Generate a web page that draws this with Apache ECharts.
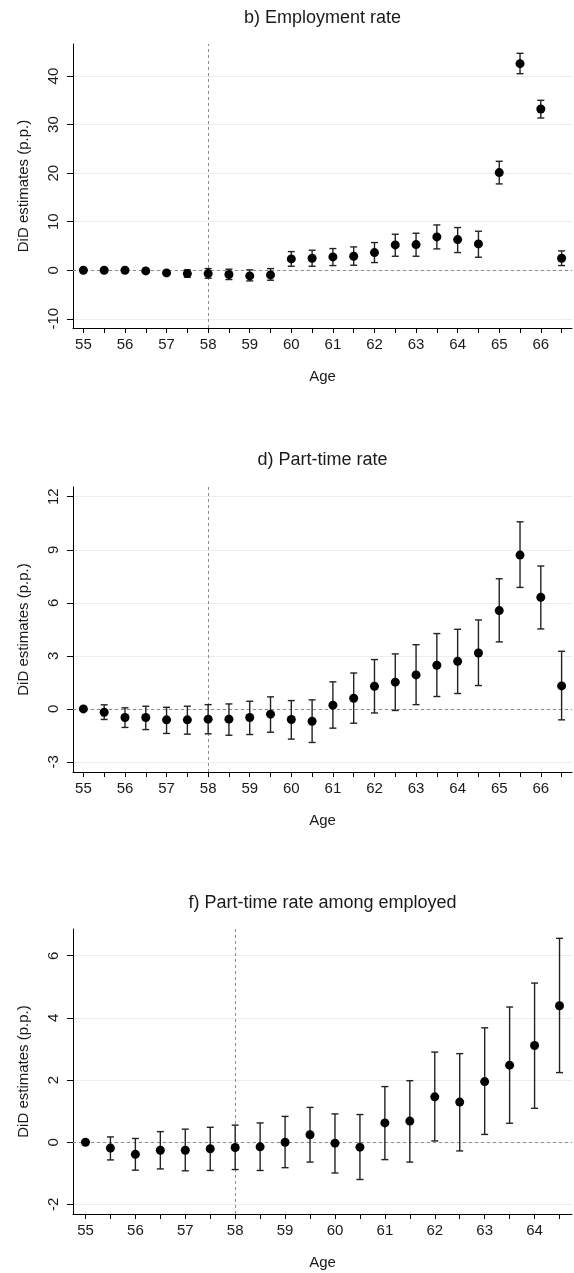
<!DOCTYPE html>
<html><head><meta charset="utf-8">
<script src="https://cdn.jsdelivr.net/npm/echarts@6/dist/echarts.min.js"></script>
<style>html,body{margin:0;padding:0;background:#fff}#c{width:574px;height:1273px}</style>
</head><body><div id="c"></div>
<script>
// ---- data ----
const agesLong = ['55','55.5','56','56.5','57','57.5','58','58.5','59','59.5','60','60.5','61','61.5','62','62.5','63','63.5','64','64.5','65','65.5','66','66.5'];
const agesShort = ['55','55.5','56','56.5','57','57.5','58','58.5','59','59.5','60','60.5','61','61.5','62','62.5','63','63.5','64','64.5'];

const titles = ['b) Employment rate', 'd) Part-time rate', 'f) Part-time rate among employed'];
const yAxisName = 'DiD estimates (p.p.)';
const xAxisName = 'Age';
const cutoffAge = '58';

// b) Employment rate
const empEst  = [0, 0, 0, -0.14, -0.55, -0.69, -0.69, -0.89, -1.17, -0.96, 2.33, 2.47, 2.75, 2.88, 3.64, 5.22, 5.28, 6.86, 6.31, 5.42, 20.11, 42.55, 33.22, 2.47];
const empLow  = [null, -0.2, -0.2, -0.4, -0.9, -1.44, -1.65, -1.92, -2.2, -2.06, 0.82, 0.82, 0.96, 1.03, 1.58, 2.88, 2.88, 4.39, 3.64, 2.68, 17.78, 40.49, 31.36, 0.96];
const empHigh = [null, 0.2, 0.2, 0.12, -0.2, 0.07, 0.34, 0.21, 0.07, 0.34, 3.84, 4.12, 4.46, 4.8, 5.7, 7.41, 7.62, 9.33, 8.79, 8.03, 22.44, 44.68, 35.0, 3.98];
const empTicks = [-10, 0, 10, 20, 30, 40];

// d) Part-time rate
const ptEst  = [0, -0.19, -0.49, -0.49, -0.62, -0.62, -0.58, -0.58, -0.49, -0.3, -0.6, -0.7, 0.21, 0.6, 1.28, 1.51, 1.92, 2.47, 2.69, 3.16, 5.56, 8.7, 6.31, 1.3];
const ptLow  = [null, -0.6, -1.05, -1.17, -1.39, -1.43, -1.41, -1.49, -1.45, -1.32, -1.71, -1.9, -1.09, -0.81, -0.23, -0.09, 0.24, 0.7, 0.87, 1.32, 3.79, 6.87, 4.52, -0.62];
const ptHigh = [null, 0.23, 0.06, 0.15, 0.09, 0.15, 0.24, 0.28, 0.43, 0.68, 0.47, 0.51, 1.53, 2.03, 2.79, 3.11, 3.63, 4.26, 4.5, 5.03, 7.36, 10.58, 8.08, 3.26];
const ptTicks = [-3, 0, 3, 6, 9, 12];

// f) Part-time rate among employed
const pteEst  = [0, -0.19, -0.39, -0.26, -0.26, -0.21, -0.17, -0.15, 0, 0.24, -0.03, -0.16, 0.62, 0.68, 1.46, 1.29, 1.95, 2.48, 3.11, 4.39];
const pteLow  = [null, -0.57, -0.9, -0.86, -0.92, -0.91, -0.88, -0.91, -0.82, -0.64, -0.99, -1.2, -0.56, -0.64, 0.04, -0.28, 0.25, 0.61, 1.09, 2.24];
const pteHigh = [null, 0.17, 0.12, 0.34, 0.42, 0.48, 0.55, 0.62, 0.83, 1.12, 0.91, 0.89, 1.79, 1.98, 2.9, 2.85, 3.68, 4.35, 5.12, 6.56];
const pteTicks = [-2, 0, 2, 4, 6];

// ---- layout / style ----
const FONT = 'Liberation Sans, Arial, sans-serif';
const panels = [
  {cats: agesLong, est: empEst, low: empLow, high: empHigh, ticks: empTicks, min: -11.9, max: 46.6, top: 44, height: 284, titleY: 18},
  {cats: agesLong, est: ptEst, low: ptLow, high: ptHigh, ticks: ptTicks, min: -3.57, max: 12.55, top: 487, height: 285, titleY: 460},
  {cats: agesShort, est: pteEst, low: pteLow, high: pteHigh, ticks: pteTicks, min: -2.31, max: 6.86, top: 929, height: 285, titleY: 903}
];
const LEFT = 73, RIGHT = 2;

const grid = [], xAxis = [], yAxis = [], series = [], graphic = [];
panels.forEach((p, gi) => {
  grid.push({left: LEFT, right: RIGHT, top: p.top, height: p.height, containLabel: false});
  xAxis.push({
    type: 'category', gridIndex: gi, data: p.cats, boundaryGap: true,
    name: xAxisName, nameLocation: 'middle', nameGap: 41,
    nameTextStyle: {fontFamily: FONT, fontSize: 15, color: '#1a1a1a'},
    axisLine: {show: true, onZero: false, lineStyle: {color: '#000', width: 1}},
    axisTick: {show: true, alignWithLabel: true, interval: 0, length: 5, lineStyle: {color: '#000'}},
    axisLabel: {interval: (i, v) => Number(v) % 1 === 0, margin: 9, fontFamily: FONT, fontSize: 15, color: '#1a1a1a'},
    splitLine: {show: false}
  });
  yAxis.push({
    type: 'value', gridIndex: gi, min: p.min, max: p.max,
    name: yAxisName, nameLocation: 'middle', nameRotate: 90, nameGap: 42,
    nameTextStyle: {fontFamily: FONT, fontSize: 15, color: '#1a1a1a'},
    axisLine: {show: true, onZero: false, lineStyle: {color: '#000', width: 1}},
    axisTick: {show: true, length: 6, customValues: p.ticks, lineStyle: {color: '#000'}},
    axisLabel: {rotate: 90, margin: 12, customValues: p.ticks, fontFamily: FONT, fontSize: 15, color: '#1a1a1a'},
    splitLine: {show: true, lineStyle: {color: '#e6eef0', width: 1}}
  });
  const errData = [];
  p.low.forEach((l, i) => { if (l !== null) errData.push([i, l, p.high[i]]); });
  series.push({
    type: 'custom', xAxisIndex: gi, yAxisIndex: gi, data: errData, z: 3, silent: true,
    encode: {x: 0, y: [1, 2]},
    renderItem: (params, api) => {
      const x = api.value(0);
      const lo = api.coord([x, api.value(1)]);
      const hi = api.coord([x, api.value(2)]);
      const w = 3.5;
      const st = {stroke: '#222', lineWidth: 1.4};
      return {type: 'group', children: [
        {type: 'line', shape: {x1: lo[0], y1: lo[1], x2: hi[0], y2: hi[1]}, style: st},
        {type: 'line', shape: {x1: lo[0] - w, y1: lo[1], x2: lo[0] + w, y2: lo[1]}, style: st},
        {type: 'line', shape: {x1: hi[0] - w, y1: hi[1], x2: hi[0] + w, y2: hi[1]}, style: st}
      ]};
    }
  });
  series.push({
    type: 'scatter', xAxisIndex: gi, yAxisIndex: gi, z: 4,
    data: p.est, symbol: 'circle', symbolSize: 9,
    itemStyle: {color: '#000', opacity: 1},
    markLine: {
      silent: true, symbol: 'none', label: {show: false}, z: 2,
      lineStyle: {type: [3, 3], color: '#8c8c8c', width: 1},
      data: [{xAxis: cutoffAge}, {yAxis: 0}]
    }
  });
  graphic.push({
    type: 'text', x: LEFT + (574 - LEFT - RIGHT) / 2, y: p.titleY,
    style: {text: titles[gi], fontFamily: FONT, fontSize: 18, fill: '#1a1a1a', textAlign: 'center', textVerticalAlign: 'middle'}
  });
});

const chart = echarts.init(document.getElementById('c'), null, {renderer: 'canvas'});
chart.setOption({animation: false, backgroundColor: '#fff', grid, xAxis, yAxis, series, graphic});
</script>
</body></html>
